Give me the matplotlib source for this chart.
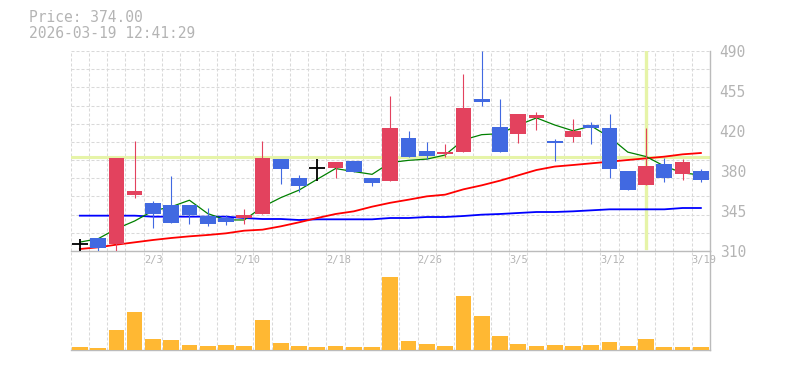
import numpy as np
import matplotlib.pyplot as plt
from matplotlib.ticker import FixedLocator

plt.rcParams['font.family'] = 'DejaVu Sans Mono'

# daily data
dates = ["1/28", "1/29", "1/30", "2/2", "2/3", "2/4", "2/5", "2/6", "2/9", "2/10",
         "2/12", "2/13", "2/16", "2/17", "2/18", "2/19", "2/20", "2/24", "2/25", "2/26",
         "2/27", "3/2", "3/3", "3/4", "3/5", "3/6", "3/9", "3/10", "3/11", "3/12",
         "3/13", "3/16", "3/17", "3/18", "3/19"]
opens = [316.3, 321.4, 316.0, 360.7, 353.5, 351.7, 351.7, 341.2, 339.4, 339.4,
         343.0, 393.1, 376.0, 384.7, 384.4, 391.3, 376.0, 372.7, 412.0, 400.3,
         397.6, 399.4, 447.1, 421.9, 415.6, 430.0, 408.7, 412.9, 423.7, 421.0,
         382.3, 369.7, 388.6, 379.6, 382.3]
highs = [320.8, 321.4, 394.0, 409.3, 355.3, 377.8, 351.7, 349.0, 342.7, 348.1,
         409.3, 393.1, 378.7, 393.1, 390.4, 391.3, 376.0, 449.8, 418.3, 408.4,
         406.6, 469.6, 490.0, 447.1, 433.6, 434.8, 411.1, 429.1, 426.4, 433.6,
         382.3, 421.0, 394.0, 393.1, 384.1]
lows = [310.0, 310.0, 310.0, 357.4, 330.4, 334.9, 334.0, 332.2, 333.1, 334.0,
        343.0, 370.0, 362.8, 373.3, 375.4, 380.8, 368.2, 372.7, 394.9, 392.8,
        394.9, 399.4, 440.8, 399.4, 407.5, 419.2, 390.7, 408.4, 406.6, 376.0,
        365.2, 369.7, 372.4, 374.2, 372.4]
closes = [316.3, 313.0, 394.0, 364.3, 343.0, 334.9, 342.1, 334.0, 335.8, 342.7,
          394.0, 383.5, 368.2, 384.7, 390.4, 380.8, 370.9, 421.0, 394.9, 395.8,
          399.4, 439.0, 444.4, 399.4, 433.6, 432.7, 406.9, 418.3, 421.0, 383.5,
          365.2, 386.8, 375.4, 390.4, 374.0]
volume = [9, 6, 57, 111, 33, 30, 15, 12, 15, 12,
          87, 21, 12, 9, 12, 9, 9, 214, 27, 18,
          12, 159, 99, 42, 18, 12, 15, 12, 15, 24,
          12, 33, 9, 9, 9]
ma5 = [318.0, 321.0, 330.0, 337.0, 346.1, 349.8, 355.7, 343.7, 338.0, 337.9,
       349.7, 358.0, 364.8, 374.6, 384.2, 381.5, 379.0, 389.6, 391.6, 392.7,
       396.4, 410.0, 414.7, 415.6, 423.2, 429.8, 423.4, 418.2, 422.5, 412.5,
       399.0, 395.0, 386.4, 380.3, 378.4]
ma25 = [311.8, 313.3, 315.7, 317.8, 319.9, 321.7, 323.2, 324.4, 325.9, 328.3,
        329.2, 332.2, 335.8, 339.7, 343.3, 345.7, 349.9, 353.4, 356.2, 359.2,
        360.7, 365.5, 369.1, 373.3, 378.1, 382.9, 386.0, 387.4, 388.9, 390.4,
        391.9, 393.4, 394.9, 397.0, 398.2]
ma75 = [341.8, 341.8, 341.8, 341.8, 340.9, 340.9, 340.9, 340.9, 340.9, 339.7,
        338.8, 338.8, 337.9, 338.5, 338.5, 338.5, 338.5, 339.7, 339.7, 340.6,
        340.6, 341.5, 342.7, 343.3, 344.2, 345.1, 345.1, 345.7, 346.6, 347.5,
        347.5, 347.5, 347.5, 348.7, 348.7]
ytick_labels = ["310", "345", "380", "420", "455", "490"]
timestamp = "2026-03-19 12:41:29"

cursor_idx = 31
cursor_price = 394.3

up_col = '#e3425e'
down_col = '#4169e1'
txt_col = '#b4b4b4'
edge_col = '#bbbbbb'
grid_kw = dict(color='#d9d9d9', lw=0.75, ls=(0, (2.9, 1.9)))

fig = plt.figure(figsize=(7.85, 3.70), dpi=100)
ax = fig.add_axes([70.7 / 785, 1 - 251 / 370, 639.3 / 785, 200 / 370])
axv = fig.add_axes([70.7 / 785, 1 - 350 / 370, 639.3 / 785, 99 / 370])

x = np.arange(len(dates))
n = len(dates)

# price panel
ax.set_xlim(-0.5, n - 0.5)
ax.set_ylim(310, 490)
ax.xaxis.remove_overlapping_locs = False
ax.yaxis.remove_overlapping_locs = False
ax.xaxis.set_minor_locator(FixedLocator(np.arange(-0.5, n, 1)))
ax.yaxis.set_minor_locator(FixedLocator(np.linspace(310, 490, 12)))
label_idx = list(range(4, n, 5))
ax.set_xticks([i - 0.5 for i in label_idx])
ax.set_xticklabels([dates[i] for i in label_idx], ha='left')
ax.set_yticks(np.linspace(310, 490, 6))
ax.set_yticklabels(ytick_labels)
ax.yaxis.tick_right()
ax.tick_params(which='both', length=0)
ax.tick_params(axis='x', pad=3, labelsize=7.5, labelcolor=txt_col)
ax.tick_params(axis='y', pad=7, labelsize=10.5, labelcolor=txt_col)
ax.grid(which='minor', **grid_kw)
ax.set_axisbelow(True)
for s in ['left', 'top']:
    ax.spines[s].set_visible(False)
for s in ['right', 'bottom']:
    ax.spines[s].set_color(edge_col)
    ax.spines[s].set_linewidth(1)

# cursor
ax.axhline(cursor_price, color='#e6f4a8', lw=2.2, zorder=1.5)
ax.axvline(cursor_idx, ymin=0.013, ymax=0.996, color='#e6f4a8', lw=2.4, zorder=1.5)

# moving averages
ax.plot(x, ma75, color='#0000ff', lw=1.3, zorder=2)
ax.plot(x, ma25, color='#ff0000', lw=1.3, zorder=2)
ax.plot(x, ma5, color='#008000', lw=0.9, zorder=2)

# candles
for i in range(n):
    o, h, l, c = opens[i], highs[i], lows[i], closes[i]
    if o == c:
        ax.vlines(i, l, h, color='black', lw=1.3, zorder=3)
        ax.hlines(o, i - 0.43, i + 0.43, color='black', lw=1.3, zorder=3)
        continue
    col = up_col if c > o else down_col
    ax.vlines(i, l, h, color=col, lw=0.8, zorder=3)
    ax.bar(i, abs(c - o), bottom=min(o, c), width=0.86, color=col, zorder=3)

# volume panel
axv.bar(x, volume, width=0.86, color='#ffb833', zorder=3)
axv.set_xlim(-0.5, n - 0.5)
axv.set_ylim(0, 289)
axv.xaxis.set_major_locator(FixedLocator(np.arange(-0.5, n, 1)))
axv.set_xticklabels([])
axv.set_yticks([])
axv.tick_params(length=0)
axv.grid(axis='x', **grid_kw)
axv.set_axisbelow(True)
axv.patch.set_alpha(0)
for s in ['left', 'top']:
    axv.spines[s].set_visible(False)
for s in ['right', 'bottom']:
    axv.spines[s].set_color(edge_col)
    axv.spines[s].set_linewidth(1)

fig.text(29 / 785, 1 - 18 / 370, f"Price: {closes[-1]:.2f}", fontsize=10.5,
         color=txt_col, va='center')
fig.text(29 / 785, 1 - 33.5 / 370, timestamp, fontsize=10.5,
         color=txt_col, va='center')

fig.savefig('out.png', dpi=100)
